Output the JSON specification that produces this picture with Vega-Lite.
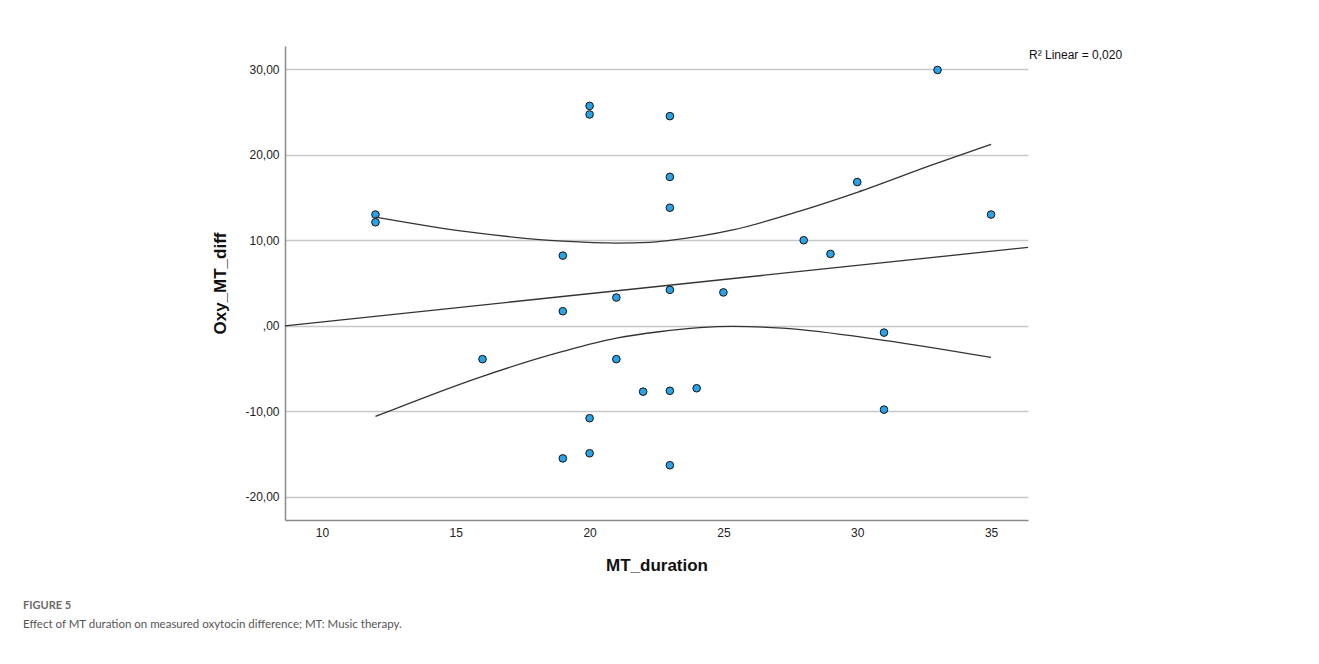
{
  "$schema": "https://vega.github.io/schema/vega-lite/v6.json",
  "width": 743,
  "height": 474,
  "autosize": {"type": "none"},
  "padding": {"left": 285, "top": 46, "right": 291, "bottom": 144},
  "background": "white",
  "config": {"view": {"stroke": null}, "font": "Liberation Sans"},
  "title": {
    "text": "FIGURE 5",
    "subtitle": "Effect of MT duration on measured oxytocin difference; MT: Music therapy.",
    "orient": "bottom",
    "anchor": "start",
    "frame": "group",
    "dx": -262,
    "offset": 27,
    "font": "Lato",
    "fontSize": 11,
    "fontWeight": "bold",
    "color": "#6b6b6b",
    "subtitleFont": "Lato",
    "subtitleFontSize": 11.5,
    "subtitleColor": "#555555",
    "subtitlePadding": 8
  },
  "datasets": {
    "pts": [
      {"MT_duration": 12, "Oxy_MT_diff": 13.0},
      {"MT_duration": 12, "Oxy_MT_diff": 12.1},
      {"MT_duration": 16, "Oxy_MT_diff": -3.9},
      {"MT_duration": 19, "Oxy_MT_diff": 8.2},
      {"MT_duration": 19, "Oxy_MT_diff": 1.7},
      {"MT_duration": 19, "Oxy_MT_diff": -15.5},
      {"MT_duration": 20, "Oxy_MT_diff": 25.7},
      {"MT_duration": 20, "Oxy_MT_diff": 24.7},
      {"MT_duration": 20, "Oxy_MT_diff": -10.8},
      {"MT_duration": 20, "Oxy_MT_diff": -14.9},
      {"MT_duration": 21, "Oxy_MT_diff": 3.3},
      {"MT_duration": 21, "Oxy_MT_diff": -3.9},
      {"MT_duration": 22, "Oxy_MT_diff": -7.7},
      {"MT_duration": 23, "Oxy_MT_diff": 24.5},
      {"MT_duration": 23, "Oxy_MT_diff": 17.4},
      {"MT_duration": 23, "Oxy_MT_diff": 13.8},
      {"MT_duration": 23, "Oxy_MT_diff": 4.2},
      {"MT_duration": 23, "Oxy_MT_diff": -7.6},
      {"MT_duration": 23, "Oxy_MT_diff": -16.3},
      {"MT_duration": 24, "Oxy_MT_diff": -7.3},
      {"MT_duration": 25, "Oxy_MT_diff": 3.9},
      {"MT_duration": 28, "Oxy_MT_diff": 10.0},
      {"MT_duration": 29, "Oxy_MT_diff": 8.4},
      {"MT_duration": 30, "Oxy_MT_diff": 16.8},
      {"MT_duration": 31, "Oxy_MT_diff": -0.8},
      {"MT_duration": 31, "Oxy_MT_diff": -9.8},
      {"MT_duration": 33, "Oxy_MT_diff": 29.9},
      {"MT_duration": 35, "Oxy_MT_diff": 13.0}
    ],
    "fit": [
      {"MT_duration": 8.62, "Oxy_MT_diff": 0.0},
      {"MT_duration": 36.38, "Oxy_MT_diff": 9.16}
    ],
    "ci": [
      {"bound": "upper", "MT_duration": 12, "Oxy_MT_diff": 12.7},
      {"bound": "upper", "MT_duration": 15.4, "Oxy_MT_diff": 11.0},
      {"bound": "upper", "MT_duration": 19, "Oxy_MT_diff": 9.9},
      {"bound": "upper", "MT_duration": 21, "Oxy_MT_diff": 9.67},
      {"bound": "upper", "MT_duration": 22.25, "Oxy_MT_diff": 9.74},
      {"bound": "upper", "MT_duration": 23, "Oxy_MT_diff": 9.98},
      {"bound": "upper", "MT_duration": 25.35, "Oxy_MT_diff": 11.2},
      {"bound": "upper", "MT_duration": 27.85, "Oxy_MT_diff": 13.4},
      {"bound": "upper", "MT_duration": 30, "Oxy_MT_diff": 15.6},
      {"bound": "upper", "MT_duration": 32.8, "Oxy_MT_diff": 18.8},
      {"bound": "upper", "MT_duration": 35, "Oxy_MT_diff": 21.2},
      {"bound": "lower", "MT_duration": 12, "Oxy_MT_diff": -10.6},
      {"bound": "lower", "MT_duration": 16, "Oxy_MT_diff": -5.9},
      {"bound": "lower", "MT_duration": 19, "Oxy_MT_diff": -3.0},
      {"bound": "lower", "MT_duration": 21, "Oxy_MT_diff": -1.45},
      {"bound": "lower", "MT_duration": 22.6, "Oxy_MT_diff": -0.7},
      {"bound": "lower", "MT_duration": 25.35, "Oxy_MT_diff": -0.08},
      {"bound": "lower", "MT_duration": 27.2, "Oxy_MT_diff": -0.27},
      {"bound": "lower", "MT_duration": 31, "Oxy_MT_diff": -1.7},
      {"bound": "lower", "MT_duration": 35, "Oxy_MT_diff": -3.7}
    ],
    "note": [
      {"label": "R\u00b2 Linear = 0,020"}
    ]
  },
  "layer": [
    {
      "data": {"name": "pts"},
      "mark": {"type": "circle", "size": 58, "fill": "#2aa2e8", "stroke": "#111111", "strokeWidth": 1, "opacity": 1},
      "encoding": {
        "x": {
          "field": "MT_duration",
          "type": "quantitative",
          "scale": {"domain": [8.62, 36.38], "nice": false, "zero": false},
          "axis": {
            "title": "MT_duration",
            "values": [10, 15, 20, 25, 30, 35],
            "format": "d",
            "grid": false,
            "ticks": false,
            "domainColor": "#8a8a8a",
            "domainWidth": 1.5,
            "labelFont": "Liberation Sans",
            "labelFontSize": 12,
            "labelColor": "#222222",
            "labelPadding": 7,
            "titleFont": "Liberation Sans",
            "titleFontSize": 17,
            "titleFontWeight": "bold",
            "titleColor": "#111111",
            "titlePadding": 19
          }
        },
        "y": {
          "field": "Oxy_MT_diff",
          "type": "quantitative",
          "scale": {"domain": [-22.7, 32.7], "nice": false, "zero": false},
          "axis": {
            "title": "Oxy_MT_diff",
            "values": [-20, -10, 0, 10, 20, 30],
            "labelExpr": "datum.value == 0 ? ',00' : replace(replace(format(datum.value, '.2f'), '.', ','), '\u2212', '-')",
            "grid": true,
            "gridColor": "#c8c8c8",
            "gridWidth": 1.5,
            "ticks": false,
            "domainColor": "#8a8a8a",
            "domainWidth": 1.5,
            "labelFont": "Liberation Sans",
            "labelFontSize": 12,
            "labelColor": "#222222",
            "labelPadding": 6,
            "titleFont": "Liberation Sans",
            "titleFontSize": 17,
            "titleFontWeight": "bold",
            "titleColor": "#111111",
            "titlePadding": 15
          }
        }
      }
    },
    {
      "data": {"name": "fit"},
      "mark": {"type": "line", "color": "#333333", "strokeWidth": 1.3},
      "encoding": {
        "x": {"field": "MT_duration", "type": "quantitative"},
        "y": {"field": "Oxy_MT_diff", "type": "quantitative"}
      }
    },
    {
      "data": {"name": "ci"},
      "mark": {"type": "line", "color": "#333333", "strokeWidth": 1.3, "interpolate": "monotone"},
      "encoding": {
        "x": {"field": "MT_duration", "type": "quantitative"},
        "y": {"field": "Oxy_MT_diff", "type": "quantitative"},
        "detail": {"field": "bound", "type": "nominal"}
      }
    },
    {
      "data": {"name": "note"},
      "mark": {"type": "text", "align": "left", "baseline": "alphabetic", "dx": 1, "font": "Liberation Sans", "fontSize": 12, "fill": "#111111", "clip": false},
      "encoding": {
        "x": {"datum": 36.38, "type": "quantitative"},
        "y": {"datum": 31.2, "type": "quantitative"},
        "text": {"field": "label", "type": "nominal"}
      }
    }
  ]
}
